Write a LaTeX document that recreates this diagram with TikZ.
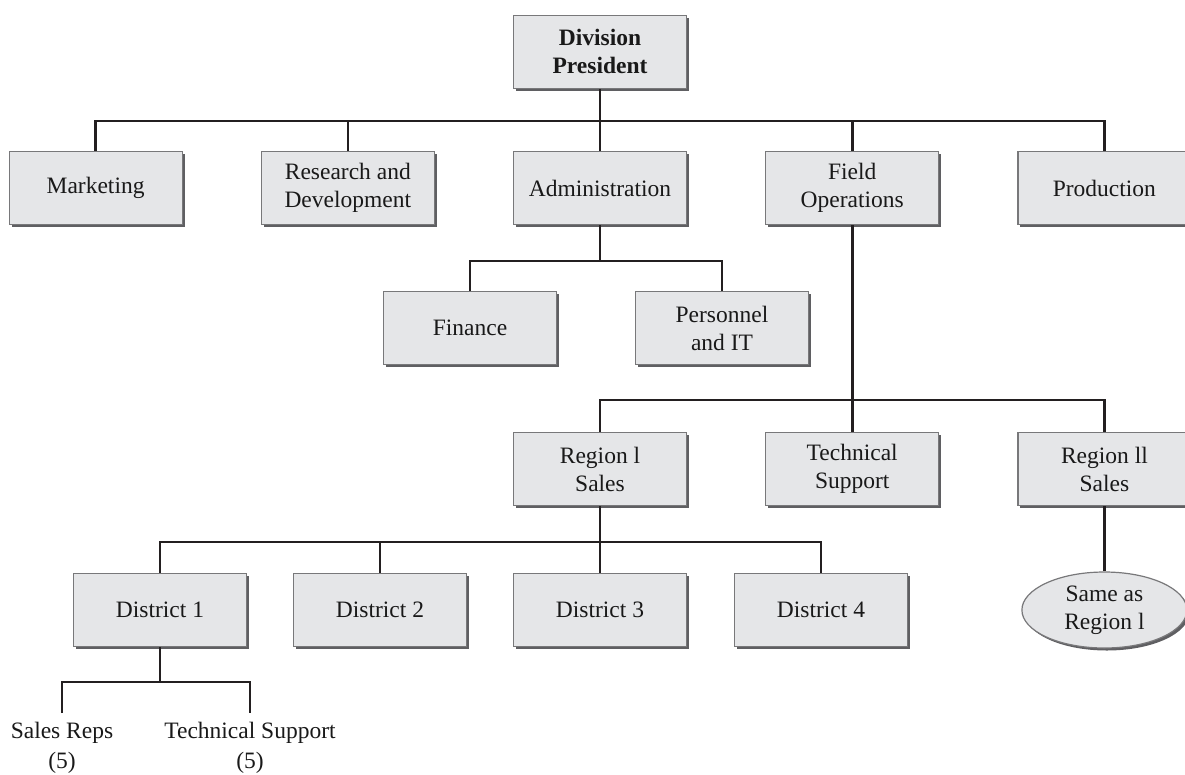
\documentclass[tikz,border=0pt]{standalone}
\usepackage{fontspec}
\setmainfont{Liberation Serif}
\usetikzlibrary{shapes.geometric, shadows, positioning}
\definecolor{boxfill}{RGB}{229,230,232}
\definecolor{boxline}{RGB}{120,120,122}
\definecolor{boxshade}{RGB}{95,95,98}
\definecolor{linkblack}{RGB}{35,31,32}

\begin{document}
\begin{tikzpicture}[
    x=1pt, y=-1pt,
    node distance=78pt,
    unit/.style={rectangle, draw=boxline, line width=1.2pt, fill=boxfill,
                 minimum width=173pt, minimum height=73pt, align=center,
                 font=\fontsize{23.5}{28}\selectfont, text=black!90,
                 drop shadow={shadow xshift=2.5pt, shadow yshift=-2.5pt,
                              fill=boxshade, opacity=1}},
    oval/.style={ellipse, draw=boxline, line width=1.2pt, fill=boxfill,
                 minimum width=165pt, minimum height=76pt, inner sep=0pt,
                 align=center, font=\fontsize{23.5}{28}\selectfont, text=black!90,
                 drop shadow={shadow xshift=2.5pt, shadow yshift=-2.5pt,
                              fill=boxshade, opacity=1}},
    staff/.style={align=center, inner xsep=0pt, inner ysep=9pt,
                  font=\fontsize{23.5}{30}\selectfont, text=black!90},
    link/.style={draw=linkblack, line width=2.6pt}
]
\useasboundingbox (0,0) rectangle (1185,774);
\clip (0,0) rectangle (1185,774);

% top of the division
\node[unit] (admin) at (600,188) {Administration};
\node[unit, above=62pt of admin] (pres) {\textbf{Division}\\\textbf{President}};
\node[unit, left=of admin] (rnd) {Research and\\Development};
\node[unit, left=of rnd] (mkt) {Marketing};
\node[unit, right=of admin] (field) {Field\\Operations};
\node[unit, right=of field] (prod) {Production};

% administration units
\node[unit] (fin) at (470,328) {Finance};
\node[unit] (pers) at (722,328) {Personnel\\and IT};

% field operations
\node[unit] (reg1) at (600,469) {Region l\\Sales};
\node[unit] (tech) at (field |- reg1) {Technical\\Support};
\node[unit] (reg2) at (prod |- reg1) {Region ll\\Sales};

% districts of region 1
\node[unit] (dist1) at (160,610) {District 1};
\node[unit] (dist2) at (380,610) {District 2};
\node[unit] (dist3) at (600,610) {District 3};
\node[unit] (dist4) at (821,610) {District 4};
\node[oval] (same) at (reg2 |- dist1) {Same as\\Region l};

% district staff
\node[staff, anchor=north] (reps) at (62,713) {Sales Reps\\(5)};
\node[staff, anchor=north] (dsup) at (250,713) {Technical Support\\(5)};

% bus bars
\coordinate (topbus) at (600,121);
\coordinate (adminbus) at (600,261);
\coordinate (fieldbus) at (field |- 0,400);
\coordinate (regbus) at (600,542);
\coordinate (distbus) at (160,682);

\draw[link] (pres) -- (topbus);
\draw[link] (mkt.north) |- (topbus) -| (prod.north);
\draw[link] (rnd.north) -- (rnd.north |- topbus);
\draw[link] (admin.north) -- (admin.north |- topbus);
\draw[link] (field.north) -- (field.north |- topbus);

\draw[link] (admin) -- (adminbus);
\draw[link] (fin.north) |- (adminbus) -| (pers.north);

\draw[link] (field) -- (fieldbus);
\draw[link] (reg1.north) |- (fieldbus) -| (reg2.north);
\draw[link] (tech.north) -- (fieldbus);

\draw[link] (reg1) -- (regbus);
\draw[link] (dist1.north) |- (regbus) -| (dist4.north);
\draw[link] (dist2.north) -- (dist2.north |- regbus);
\draw[link] (dist3.north) -- (dist3.north |- regbus);

\draw[link] (reg2) -- (same);

\draw[link] (dist1) -- (distbus);
\draw[link] (reps.north) |- (distbus) -| (dsup.north);
\end{tikzpicture}
\end{document}
